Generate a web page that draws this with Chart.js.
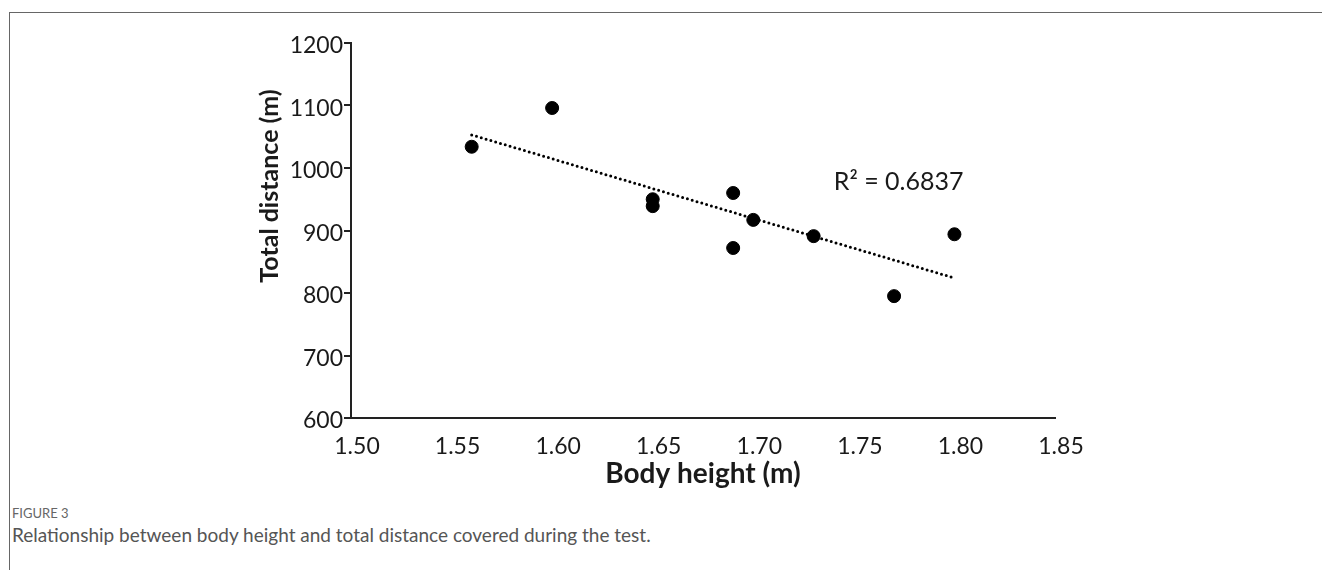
<!DOCTYPE html>
<html>
<head>
<meta charset="utf-8">
<script src="https://cdn.jsdelivr.net/npm/chart.js@4.4.1/dist/chart.umd.min.js"></script>
<style>
  body { margin: 0; background: #fff; width: 1322px; height: 570px; overflow: hidden; position: relative; }
  #frame { position: absolute; left: 9px; top: 12px; right: -2px; bottom: -2px; border-top: 1.5px solid #666; border-left: 1.5px solid #666; }
  #chart { position: absolute; left: 0; top: 0; }
  .figno { position: absolute; left: 12px; top: 505px; font-family: Lato, sans-serif; font-size: 13px; color: #666; }
  .caption { position: absolute; left: 12px; top: 523px; font-family: Lato, sans-serif; font-size: 19px; color: #555; }
</style>
</head>
<body>
<div id="frame"></div>
<canvas id="chart" width="1322" height="500"></canvas>
<div class="figno">FIGURE 3</div>
<div class="caption">Relationship between body height and total distance covered during the test.</div>
<script>
// measured points (body height m, total distance m)
const heights = [1.56, 1.60, 1.65, 1.65, 1.69, 1.69, 1.70, 1.73, 1.77, 1.80];
const distances = [1034, 1096, 950, 939, 960, 872, 917, 891, 795, 894];

// linear trend line ends
const trendX = [1.56, 1.80];
const trendY = [1053, 824];

const xTicks = [1.50, 1.55, 1.60, 1.65, 1.70, 1.75, 1.80, 1.85];
const yTicks = [600, 700, 800, 900, 1000, 1100, 1200];

const r2Text = "R\u00B2 = 0.6837";

const FONT = "Lato, 'Open Sans', sans-serif";
const INK = "#1a1a1a";

// y title and R² label drawn on top of the chart
const extraText = {
    id: "extraText",
    afterDraw(chart) {
        const ctx = chart.ctx;
        const { x, y } = chart.scales;
        ctx.save();
        ctx.fillStyle = INK;
        ctx.font = "25px " + FONT;
        ctx.textAlign = "left";
        ctx.textBaseline = "middle";
        ctx.fillText(r2Text, x.getPixelForValue(1.74), y.getPixelForValue(978));

        ctx.font = "bold 25px " + FONT;
        ctx.translate(270, 186);
        ctx.rotate(-Math.PI / 2);
        ctx.textAlign = "center";
        ctx.fillText("Total distance (m)", 0, 0);
        ctx.restore();
    }
};

new Chart(document.getElementById("chart"), {
    data: {
        datasets: [
            {
                type: "scatter",
                data: heights.map((h, i) => ({ x: h, y: distances[i] })),
                backgroundColor: "#000",
                borderColor: "#000",
                pointRadius: 6.5,
                pointHoverRadius: 6.5,
                order: 1
            },
            {
                type: "line",
                data: trendX.map((h, i) => ({ x: h, y: trendY[i] })),
                borderColor: "#000",
                borderWidth: 3,
                borderDash: [0, 5],
                borderCapStyle: "round",
                pointRadius: 0,
                fill: false,
                order: 2
            }
        ]
    },
    options: {
        responsive: false,
        animation: false,
        layout: { padding: { left: 240, top: 43, right: 267, bottom: 0 } },
        plugins: {
            legend: { display: false },
            tooltip: { enabled: false }
        },
        scales: {
            x: {
                type: "linear",
                min: 1.5,
                max: 1.85,
                afterFit: s => { s.height = 82; },
                afterBuildTicks: s => { s.ticks = xTicks.map(v => ({ value: v })); },
                ticks: {
                    callback: v => Number(v).toFixed(2),
                    font: { family: FONT, size: 23 },
                    color: INK,
                    padding: 15,
                    labelOffset: 6
                },
                grid: { display: false, drawTicks: false },
                border: { display: true, color: "#222", width: 2 },
                title: {
                    display: true,
                    text: "Body height (m)",
                    font: { family: FONT, size: 28, weight: "bold" },
                    color: INK,
                    padding: { top: 0, bottom: 9 }
                }
            },
            y: {
                type: "linear",
                min: 600,
                max: 1200,
                afterFit: s => { s.width = 111; },
                afterBuildTicks: s => { s.ticks = yTicks.map(v => ({ value: v })); },
                ticks: {
                    callback: v => String(v),
                    font: { family: FONT, size: 23 },
                    color: INK,
                    padding: 1,
                    labelOffset: 3
                },
                grid: { drawOnChartArea: false, drawTicks: true, tickLength: 7, color: "#222", lineWidth: 2 },
                border: { display: true, color: "#222", width: 2 }
            }
        }
    },
    plugins: [extraText]
});
</script>
</body>
</html>
